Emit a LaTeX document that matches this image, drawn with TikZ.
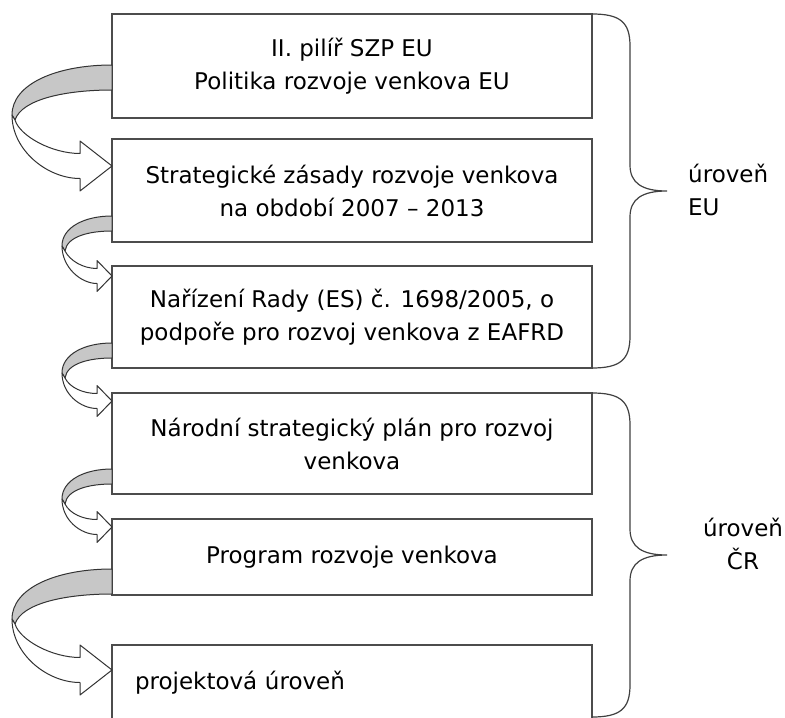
\documentclass[tikz,border=0pt]{standalone}
\usepackage{fontspec}
\setmainfont{DejaVu Sans}
\usetikzlibrary{calc}

\newcommand\levelwidth{480pt}
\newcommand\leveltextstyle{\fontsize{23}{33}\selectfont}
\tikzset{
  level/.style={draw=black!70, line width=1.2pt, fill=white, minimum width=\levelwidth,
    inner xsep=23pt, inner ysep=0pt, outer sep=0pt, align=center, font=\leveltextstyle},
  turnback/.style={draw=black!80, line width=1pt, fill=black!22, line join=round},
  turnfront/.style={draw=black!80, line width=1pt, fill=white, line join=round},
  levelbracestyle/.style={draw=black!75, line width=1.2pt},
  levellabel/.style={font=\leveltextstyle, inner sep=0pt},
}
% #1 start on the upper box, #2 tip on the lower box, #3 width, #4 band, #5 head length, #6 head half height
\newcommand\turnarrow[6]{
  \filldraw[turnback] (#1) .. controls ([shift={({-0.55*#3},0)}]#1) and ([shift={(-#3,{0.75*#4})}]#1) .. ([shift={(-#3,{2*#4})}]#1)
    -- ([shift={({3-#3},{2*#4+5})}]#1) .. controls ([shift={({-0.9*#3},{1.35*#4})}]#1) and ([shift={({-0.45*#3},#4)}]#1) .. ([shift={(0,#4)}]#1) -- cycle ;
  \filldraw[turnfront] ([shift={(-#3,{2*#4})}]#1) .. controls ([shift={(-#3,{3.4*#4})}]#1) and ([shift={({-#5-0.33*#3},{0.5*#4})}]#2) .. ([shift={(-#5,{0.5*#4})}]#2)
    -- ([shift={(-#5,#6)}]#2) -- (#2) -- ([shift={(-#5,-#6)}]#2) -- ([shift={(-#5,{-0.5*#4})}]#2)
    .. controls ([shift={({-#5-0.28*#3},{-0.5*#4})}]#2) and ([shift={({8-#3},{2.65*#4+5})}]#1) .. ([shift={({3-#3},{2*#4+5})}]#1) -- cycle ;
}
\newcommand\levelbrace[2]{
  \draw[levelbracestyle] let \p1 = (#1), \p2 = (#2), \p3 = ($(#1)!.5!(#2)$) in
    (\p1) .. controls (\x1+28pt, \y1) and (\x1+38pt, \y1-8pt) .. (\x1+38pt, \y1-32pt)
    -- (\x1+38pt, \y3+26pt) .. controls (\x1+38pt, \y3+8pt) and (\x1+50pt, \y3) .. (\x1+75pt, \y3)
    .. controls (\x1+50pt, \y3) and (\x1+38pt, \y3-8pt) .. (\x1+38pt, \y3-26pt)
    -- (\x1+38pt, \y2+32pt) .. controls (\x1+38pt, \y2+8pt) and (\x1+28pt, \y2) .. (\p2) ;
}

\begin{document}
\begin{tikzpicture}[x=1pt, y=-1pt]
    \useasboundingbox (0,0) rectangle (785,718) ;
    \node[level, minimum height=104pt] (pilir) at (352,66) {II. pilíř SZP EU\\Politika rozvoje venkova EU} ;
    \node[level, minimum height=103pt] (zasady) at (352,190.5) {Strategické zásady rozvoje venkova\\na období 2007 – 2013} ;
    \node[level, minimum height=102pt] (narizeni) at (352,317) {Nařízení Rady (ES) č. 1698/2005, o\\podpoře pro rozvoj venkova z EAFRD} ;
    \node[level, minimum height=101pt] (plan) at (352,443.5) {Národní strategický plán pro rozvoj\\venkova} ;
    \node[level, minimum height=76pt] (program) at (352,557) {Program rozvoje venkova} ;
    \node[level, minimum height=75pt, text width=434pt, align=left] (projekt) at (352,682.5) {projektová úroveň} ;
    \coordinate (a1) at ([yshift=53pt]pilir.south west) ;
    \coordinate (b1) at ([yshift=-27pt]zasady.north west) ;
    \coordinate (a2) at ([yshift=26pt]zasady.south west) ;
    \coordinate (b2) at ([yshift=-10pt]narizeni.north west) ;
    \coordinate (a3) at ([yshift=25pt]narizeni.south west) ;
    \coordinate (b3) at ([yshift=-8pt]plan.north west) ;
    \coordinate (a4) at ([yshift=25pt]plan.south west) ;
    \coordinate (b4) at ([yshift=-8pt]program.north west) ;
    \coordinate (a5) at ([yshift=26pt]program.south west) ;
    \coordinate (b5) at ([yshift=-25pt]projekt.north west) ;
    \turnarrow{a1}{b1}{100}{25}{32}{25}
    \turnarrow{a2}{b2}{50}{15}{15}{15.5}
    \turnarrow{a3}{b3}{50}{15}{15}{15.5}
    \turnarrow{a4}{b4}{50}{15}{15}{15.5}
    \turnarrow{a5}{b5}{100}{25}{32}{25}
    \coordinate (crend) at ([yshift=3pt]projekt.south east) ;
    \levelbrace{pilir.north east}{narizeni.south east}
    \levelbrace{plan.north east}{crend}
    \node[levellabel, anchor=west, align=left] (eu) at (688,190) {úroveň\\EU} ;
    \node[levellabel, align=center] (cr) at (743,544) {úroveň\\ČR} ;
  \end{tikzpicture}
\end{document}
